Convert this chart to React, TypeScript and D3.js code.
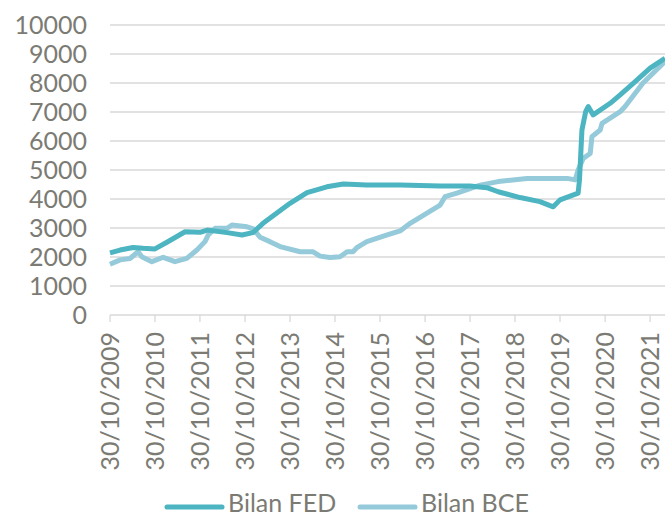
import { useEffect, useRef } from 'react'
import * as d3 from 'd3'

const fedDates = [
  '2009-10-30', '2010-01-20', '2010-05-05', '2010-07-25', '2010-10-30', '2011-02-04',
  '2011-07-01', '2011-10-30', '2011-12-28', '2012-06-06', '2012-10-05', '2013-01-01',
  '2013-03-25', '2013-10-30', '2014-03-17', '2014-08-25', '2015-01-05', '2015-07-15',
  '2016-04-10', '2017-03-01', '2017-10-30', '2018-03-15', '2018-06-15', '2018-12-10',
  '2019-05-20', '2019-09-05', '2019-10-30', '2020-01-20', '2020-03-25', '2020-04-05',
  '2020-04-25', '2020-05-25', '2020-06-15', '2020-07-25', '2020-12-10', '2021-03-01',
  '2021-06-15', '2021-10-30', '2022-02-28'
]
const fedValues = [
  2140, 2240, 2330, 2300, 2280, 2510,
  2870, 2850, 2930, 2840, 2760, 2840,
  3160, 3850, 4220, 4420, 4520, 4480,
  4480, 4450, 4450, 4390, 4250, 4050,
  3910, 3730, 3970, 4100, 4200, 4660,
  6380, 7010, 7190, 6900, 7300, 7590,
  7990, 8510, 8850
]

const bceDates = [
  '2009-10-30', '2010-01-20', '2010-04-10', '2010-06-15', '2010-07-15', '2010-10-05',
  '2011-01-05', '2011-04-10', '2011-07-15', '2011-10-05', '2011-12-10', '2012-01-05',
  '2012-03-01', '2012-06-06', '2012-07-15', '2012-11-15', '2013-01-05', '2013-03-01',
  '2013-05-20', '2013-08-10', '2014-01-20', '2014-05-05', '2014-07-01', '2014-09-20',
  '2014-12-10', '2015-02-05', '2015-03-25', '2015-04-25', '2015-07-15', '2015-12-28',
  '2016-04-10', '2016-07-01', '2017-03-01', '2017-04-10', '2017-07-15', '2018-01-20',
  '2018-06-15', '2019-02-05', '2019-12-28', '2020-03-01', '2020-03-25', '2020-05-05',
  '2020-07-01', '2020-07-15', '2020-09-20', '2020-10-05', '2021-03-01', '2021-04-10',
  '2021-09-01', '2022-02-28'
]
const bceValues = [
  1750, 1900, 1950, 2180, 2010, 1840,
  1990, 1840, 1950, 2240, 2530, 2760,
  2990, 2990, 3100, 3040, 2970, 2680,
  2530, 2360, 2180, 2180, 2030, 1980,
  2010, 2180, 2180, 2320, 2530, 2760,
  2900, 3160, 3790, 4080, 4200, 4480,
  4600, 4710, 4710, 4660, 5000, 5400,
  5570, 6150, 6380, 6610, 7010, 7190,
  7990, 8740
]

const xTickLabels = [
  '30/10/2009', '30/10/2010', '30/10/2011', '30/10/2012', '30/10/2013', '30/10/2014',
  '30/10/2015', '30/10/2016', '30/10/2017', '30/10/2018', '30/10/2019', '30/10/2020',
  '30/10/2021'
]
const yTicks = [0, 1000, 2000, 3000, 4000, 5000, 6000, 7000, 8000, 9000, 10000]

const seriesNames = ['Bilan FED', 'Bilan BCE']
const seriesColors = ['#4cb5c1', '#94cad9']

export default function App() {
  const svgRef = useRef<SVGSVGElement>(null)

  useEffect(() => {
    if (!svgRef.current) return
    const svg = d3.select(svgRef.current)
    svg.selectAll('*').remove()

    const width = 665
    const left = 110
    const right = 665
    const top = 25
    const bottom = 315
    const textColor = '#7b7b74'
    const font = 'Lato, sans-serif'

    const parse = d3.timeParse('%Y-%m-%d')
    const parseLabel = d3.timeParse('%d/%m/%Y')

    const x = d3.scaleTime()
      .domain([parse('2009-10-30')!, parse('2022-02-28')!])
      .range([left, right])
    const y = d3.scaleLinear().domain([0, 10000]).range([bottom, top])

    // gridlines
    svg.append('g')
      .selectAll('line')
      .data(yTicks.filter(d => d > 0))
      .join('line')
      .attr('x1', left)
      .attr('x2', width)
      .attr('y1', d => y(d))
      .attr('y2', d => y(d))
      .attr('stroke', '#d9d9d9')
      .attr('stroke-width', 1.3)

    // y labels
    svg.append('g')
      .selectAll('text')
      .data(yTicks)
      .join('text')
      .attr('x', 87)
      .attr('y', d => y(d))
      .attr('dy', '0.35em')
      .attr('text-anchor', 'end')
      .attr('fill', textColor)
      .style('font-family', font)
      .style('font-size', '25px')
      .text(d => String(d))

    // x axis
    const xAxis = svg.append('g').attr('transform', `translate(0,${bottom})`)
    xAxis.append('line')
      .attr('x1', left).attr('x2', width)
      .attr('stroke', '#d9d9d9').attr('stroke-width', 1.3)
    const tickDates = xTickLabels.map(l => parseLabel(l)!)
    xAxis.selectAll('line.tick')
      .data(tickDates)
      .join('line')
      .attr('class', 'tick')
      .attr('x1', d => x(d)).attr('x2', d => x(d))
      .attr('y1', 0).attr('y2', 7)
      .attr('stroke', '#d9d9d9').attr('stroke-width', 1.3)
    xAxis.selectAll('text')
      .data(xTickLabels)
      .join('text')
      .attr('transform', (d, i) => `translate(${x(tickDates[i])},17) rotate(-90)`)
      .attr('dy', '0.35em')
      .attr('text-anchor', 'end')
      .attr('fill', textColor)
      .style('font-family', font)
      .style('font-size', '25px')
      .text(d => d)

    // lines
    const line = d3.line<[Date, number]>()
      .x(d => x(d[0]))
      .y(d => y(d[1]))

    const fedData: [Date, number][] = fedDates.map((d, i) => [parse(d)!, fedValues[i]])
    const bceData: [Date, number][] = bceDates.map((d, i) => [parse(d)!, bceValues[i]])

    svg.append('path')
      .datum(bceData)
      .attr('fill', 'none')
      .attr('stroke', seriesColors[1])
      .attr('stroke-width', 5)
      .attr('stroke-linejoin', 'round')
      .attr('d', line)

    svg.append('path')
      .datum(fedData)
      .attr('fill', 'none')
      .attr('stroke', seriesColors[0])
      .attr('stroke-width', 5)
      .attr('stroke-linejoin', 'round')
      .attr('d', line)

    // legend
    const legendX = [167, 360]
    const legend = svg.append('g')
    seriesNames.forEach((name, i) => {
      legend.append('line')
        .attr('x1', legendX[i]).attr('x2', legendX[i] + 55)
        .attr('y1', 507).attr('y2', 507)
        .attr('stroke', seriesColors[i])
        .attr('stroke-width', 5)
        .attr('stroke-linecap', 'round')
      legend.append('text')
        .attr('x', legendX[i] + 61)
        .attr('y', 512)
        .attr('fill', textColor)
        .style('font-family', font)
        .style('font-size', '25px')
        .text(name)
    })
  }, [])

  return (
    <svg
      ref={svgRef}
      width={665}
      height={517}
      style={{ position: 'absolute', left: 0, top: 0, background: '#fff' }}
    />
  )
}
